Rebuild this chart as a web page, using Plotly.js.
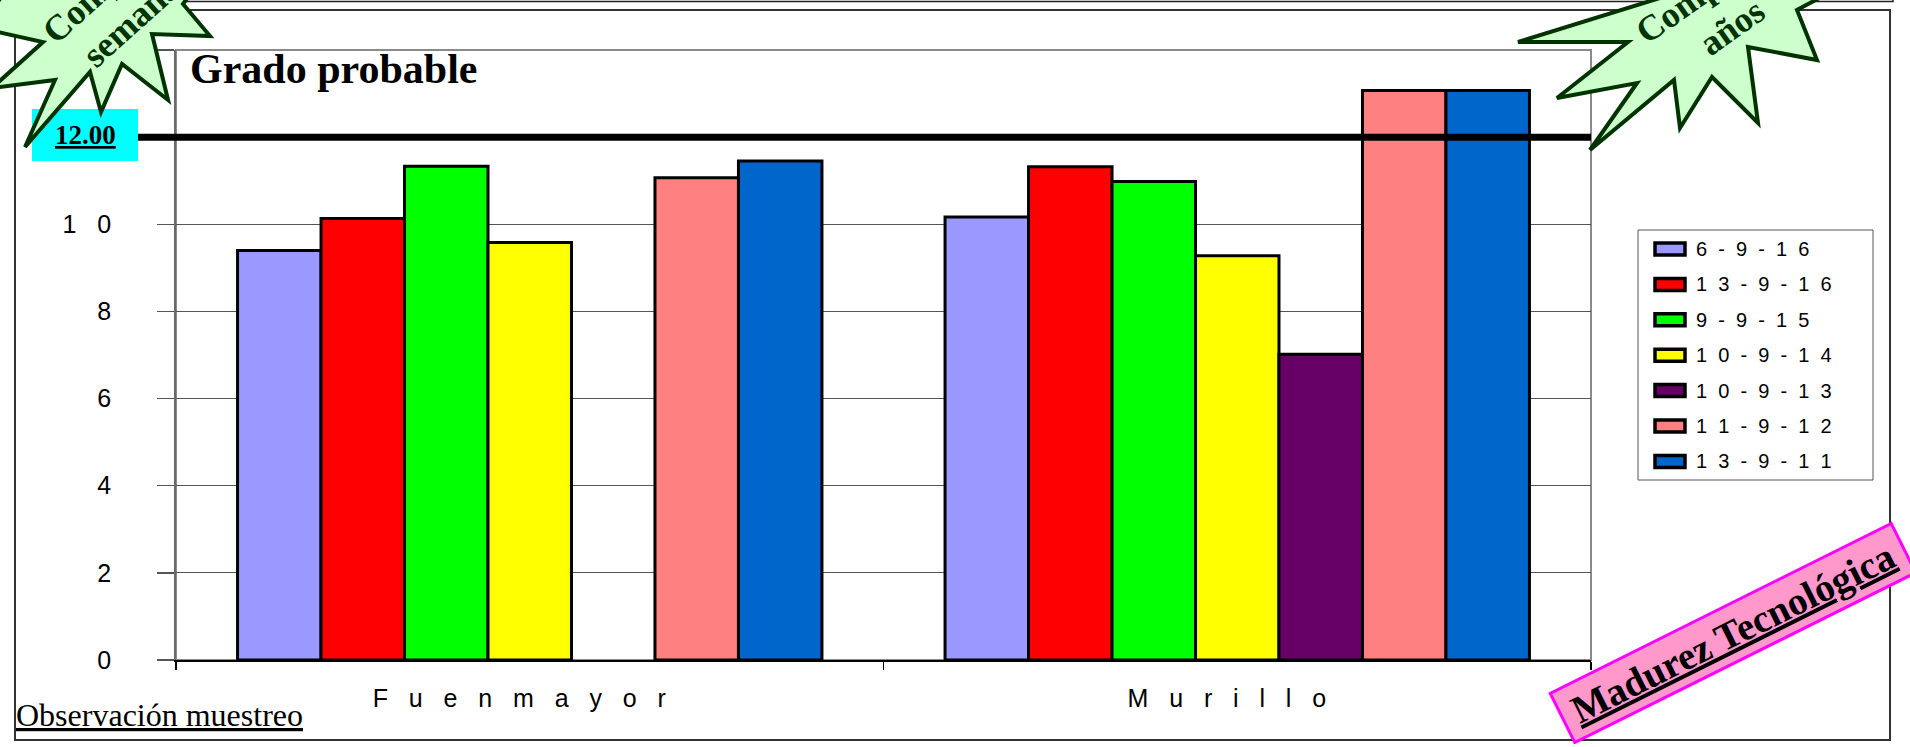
<!DOCTYPE html>
<html>
<head>
<meta charset="utf-8">
<script src="https://cdn.plot.ly/plotly-3.0.1.min.js"></script>
<style>
  html, body { margin: 0; padding: 0; background: #ffffff; }
  #chart { width: 1910px; height: 747px; }
</style>
</head>
<body>
<div id="chart"></div>
<script>
// ---- data -------------------------------------------------------------
const categories = ['Fuenmayor', 'Murillo'];
const seriesNames = ['6-9-16', '13-9-16', '9-9-15', '10-9-14', '10-9-13', '11-9-12', '13-9-11'];
const seriesColors = ['#9999FF', '#FF0000', '#00FF00', '#FFFF00', '#660066', '#FF8080', '#0066CC'];

const v_6_9_16  = [9.40, 10.17];
const v_13_9_16 = [10.13, 11.32];
const v_9_9_15  = [11.33, 10.98];
const v_10_9_14 = [9.58, 9.28];
const v_10_9_13 = [null, 7.02];
const v_11_9_12 = [11.07, 13.07];
const v_13_9_11 = [11.45, 13.07];
const seriesValues = [v_6_9_16, v_13_9_16, v_9_9_15, v_10_9_14, v_10_9_13, v_11_9_12, v_13_9_11];

const yTicks = [0, 2, 4, 6, 8, 10, 12, 14];
const targetGrade = 12;
const targetLabel = '12.00';

// ---- page geometry (pixels) -------------------------------------------
const W = 1910, H = 747;
const M = { l: 176, r: 319, t: 50, b: 87 };
const PW = W - M.l - M.r, PH = H - M.t - M.b;
const fx = p => (p - M.l) / PW;          // pixel x -> paper x
const fy = p => (H - M.b - p) / PH;      // pixel y -> paper y

// letter-spaced text, each character followed by n no-break spaces
const spaced = (s, n) => Array.from(String(s)).map(c => c + '\u00a0'.repeat(n)).join('');

const poly = pts => pts.map((p, i) => (i ? 'L' : 'M') + fx(p[0]).toFixed(5) + ',' + fy(p[1]).toFixed(5)).join(' ') + ' Z';

const SERIF = 'Liberation Serif, Times New Roman, serif';
const SANS = 'Liberation Sans, Arial, sans-serif';

// ---- traces -----------------------------------------------------------
const traces = seriesNames.map((name, i) => ({
  type: 'bar',
  name: name,
  x: categories,
  y: seriesValues[i],
  marker: { color: seriesColors[i], line: { color: '#000000', width: 3 } },
  showlegend: false,
  hoverinfo: 'x+y+name'
}));

// ---- decorations ------------------------------------------------------
const starLeft = [[-20, 28], [43, 42], [-8, 88], [55, 80], [25, 147], [90, 72], [101, 112], [122, 64],
  [168, 100], [152, 34], [210, 36], [183, 4], [230, -60], [40, -60]];
const starRight = [[1518, 42], [1628, 42], [1557, 98], [1637, 83], [1590, 150], [1674, 80], [1680, 128],
  [1712, 77], [1758, 123], [1748, 47], [1817, 60], [1797, 10], [1890, -40], [1750, -60], [1660, -2]];

const shapes = [
  // sheet frames
  { type: 'rect', xref: 'paper', yref: 'paper', x0: fx(12), x1: fx(1893), y0: fy(-10), y1: fy(1.5),
    line: { color: '#222', width: 1.5 }, layer: 'below' },
  { type: 'rect', xref: 'paper', yref: 'paper', x0: fx(15), x1: fx(1890), y0: fy(740), y1: fy(10),
    line: { color: '#333', width: 2 }, layer: 'below' },
  // plot area border
  { type: 'rect', xref: 'paper', yref: 'paper', x0: 0, x1: 1, y0: 0, y1: 1,
    line: { color: '#8a8a8a', width: 2 }, layer: 'below' },
  // legend frame
  { type: 'rect', xref: 'paper', yref: 'paper', x0: fx(1638), x1: fx(1873), y0: fy(480), y1: fy(230),
    line: { color: '#555', width: 1 }, fillcolor: '#ffffff', layer: 'below' },
  // target line
  { type: 'line', xref: 'paper', yref: 'y', x0: fx(138), x1: 1, y0: targetGrade, y1: targetGrade,
    line: { color: '#000000', width: 7 }, layer: 'above' },
  // target label box
  { type: 'rect', xref: 'paper', yref: 'paper', x0: fx(32), x1: fx(138), y0: fy(161), y1: fy(109),
    fillcolor: '#00FFFF', line: { width: 0 }, layer: 'above' },
  // bursts
  { type: 'path', xref: 'paper', yref: 'paper', path: poly(starLeft),
    fillcolor: '#CCFFCC', line: { color: '#003300', width: 4 }, layer: 'above' },
  { type: 'path', xref: 'paper', yref: 'paper', path: poly(starRight),
    fillcolor: '#CCFFCC', line: { color: '#003300', width: 4 }, layer: 'above' }
];

const annotations = [
  { xref: 'paper', yref: 'paper', x: fx(85), y: fy(135), xanchor: 'center', yanchor: 'middle',
    text: '<b><u>' + targetLabel + '</u></b>', showarrow: false,
    font: { family: SERIF, size: 27, color: '#000000' } },
  { xref: 'paper', yref: 'paper', x: fx(14), y: fy(715), xanchor: 'left', yanchor: 'middle',
    text: '<u>Observación muestreo</u>', showarrow: false,
    font: { family: SERIF, size: 32, color: '#000000' } },
  { xref: 'paper', yref: 'paper', x: fx(1733), y: fy(633), xanchor: 'center', yanchor: 'middle',
    text: '<b><u>Madurez Tecnológica</u></b>', showarrow: false, textangle: -26.5,
    bgcolor: '#FF99CC', bordercolor: '#FF00FF', borderwidth: 3, borderpad: 3, width: 372, height: 46,
    font: { family: SERIF, size: 39, color: '#000000' } },
  { xref: 'paper', yref: 'paper', x: fx(126), y: fy(-34), xanchor: 'center', yanchor: 'middle',
    text: '<b>Comparación</b>', showarrow: false, textangle: -42,
    font: { family: SERIF, size: 36, color: '#003300' } },
  { xref: 'paper', yref: 'paper', x: fx(135), y: fy(18), xanchor: 'center', yanchor: 'middle',
    text: '<b>semanal</b>', showarrow: false, textangle: -42,
    font: { family: SERIF, size: 36, color: '#003300' } },
  { xref: 'paper', yref: 'paper', x: fx(1726), y: fy(-25), xanchor: 'center', yanchor: 'middle',
    text: '<b>Comparación</b>', showarrow: false, textangle: -35,
    font: { family: SERIF, size: 36, color: '#003300' } },
  { xref: 'paper', yref: 'paper', x: fx(1732), y: fy(27), xanchor: 'center', yanchor: 'middle',
    text: '<b>años</b>', showarrow: false, textangle: -35,
    font: { family: SERIF, size: 36, color: '#003300' } }
];

// legend: swatch + label per series
seriesNames.forEach((name, i) => {
  const rowY = 249 + i * 35.4;
  shapes.push({ type: 'rect', xref: 'paper', yref: 'paper',
    x0: fx(1655), x1: fx(1685), y0: fy(rowY + 6), y1: fy(rowY - 6),
    fillcolor: seriesColors[i], line: { color: '#000000', width: 3.5 }, layer: 'below' });
  annotations.push({ xref: 'paper', yref: 'paper', x: fx(1694), y: fy(rowY), xanchor: 'left', yanchor: 'middle',
    text: spaced(name, 2), showarrow: false, font: { family: SANS, size: 20, color: '#000000' } });
});

const layout = {
  width: W, height: H,
  margin: M,
  paper_bgcolor: '#ffffff',
  plot_bgcolor: '#ffffff',
  barmode: 'group',
  bargap: 0.174,
  bargroupgap: 0,
  showlegend: false,
  title: {
    text: '<b>Grado probable</b>',
    xref: 'paper', yref: 'paper', x: fx(190), y: fy(68), xanchor: 'left', yanchor: 'middle',
    font: { family: SERIF, size: 42, color: '#000000' }
  },
  xaxis: {
    type: 'category',
    tickmode: 'array', tickvals: categories, ticktext: categories.map(c => spaced(c, 3)),
    tickson: 'boundaries', ticks: 'outside', ticklen: 8, tickwidth: 1.5, tickcolor: '#000000',
    ticklabelstandoff: 15,
    showline: true, linecolor: '#000000', linewidth: 1.5,
    showgrid: false, zeroline: false,
    tickfont: { family: SANS, size: 25, color: '#000000' },
    fixedrange: true
  },
  yaxis: {
    range: [0, 14],
    // the two top labels sit beneath the target box and the burst, so they are left blank
    tickmode: 'array', tickvals: yTicks,
    ticktext: yTicks.map(v => (v < targetGrade ? spaced(v, 3) : '')),
    ticks: 'outside', ticklen: 17, tickwidth: 1.5, tickcolor: '#555555',
    ticklabelstandoff: 20,
    showline: true, linecolor: '#6a6a6a', linewidth: 2,
    showgrid: true, gridcolor: '#555555', gridwidth: 1,
    zeroline: false,
    tickfont: { family: SANS, size: 25, color: '#000000' },
    fixedrange: true
  },
  shapes: shapes,
  annotations: annotations
};

Plotly.newPlot('chart', traces, layout, { displayModeBar: false, staticPlot: true });
</script>
</body>
</html>
